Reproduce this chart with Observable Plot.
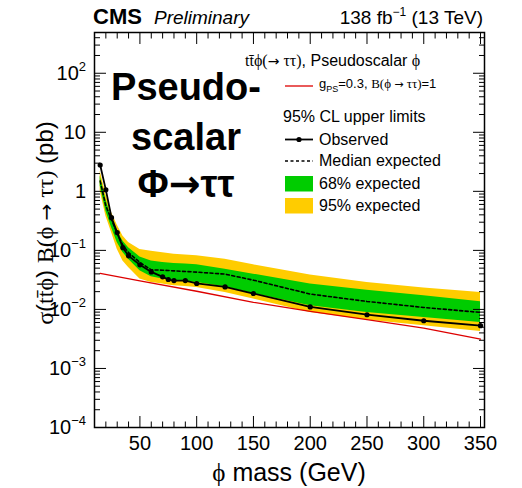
<!DOCTYPE html>
<html><head><meta charset="utf-8">
<script src="https://cdn.jsdelivr.net/npm/d3@7"></script>
<script src="https://cdn.jsdelivr.net/npm/@observablehq/plot@0.6"></script>
<style>body{margin:0;background:#fff}#chart{width:522px;height:488px}</style>
</head><body><div id="chart"></div>
<script>
// ---- data ----
const mass      = [15, 20, 25, 30, 35, 40, 50, 60, 70, 75, 80, 90, 100, 125, 150, 200, 250, 300, 350];
const observed  = [2.79, 1.06, 0.358, 0.200, 0.111, 0.0807, 0.0569, 0.0432, 0.0356, 0.0321, 0.0308, 0.0308, 0.0275, 0.0240, 0.0186, 0.0110, 0.00813, 0.00643, 0.00530];
const expected  = [1.49, 0.565, 0.330, 0.195, 0.122, 0.0918, 0.0622, 0.0468, 0.0462, 0.0456, 0.0450, 0.0439, 0.0428, 0.0396, 0.0313, 0.0182, 0.01365, 0.0108, 0.00889];
const band68Hi  = [1.82, 0.733, 0.358, 0.213, 0.1445, 0.111, 0.0776, 0.0664, 0.0622, 0.0610, 0.0598, 0.0585, 0.0569, 0.0481, 0.0396, 0.0269, 0.0212, 0.0170, 0.01345];
const band68Lo  = [1.23, 0.464, 0.243, 0.1355, 0.0918, 0.071, 0.0450, 0.0356, 0.0326, 0.0320, 0.0313, 0.0297, 0.0286, 0.0242, 0.0186, 0.01153, 0.00889, 0.00731, 0.00603];
const band95Hi  = [2.20, 0.891, 0.436, 0.270, 0.176, 0.1355, 0.103, 0.0962, 0.0908, 0.0885, 0.0863, 0.0839, 0.0807, 0.0710, 0.0569, 0.0381, 0.0286, 0.0230, 0.0194];
const band95Lo  = [1.01, 0.383, 0.200, 0.1047, 0.0664, 0.0512, 0.0326, 0.0286, 0.0269, 0.0260, 0.0251, 0.0244, 0.0235, 0.0194, 0.0150, 0.00889, 0.00660, 0.00530, 0.00424];
const theoryMass = [15, 50, 100, 150, 200, 250, 300, 350];
const theoryXsec = [0.0407, 0.0305, 0.0203, 0.0132, 0.0093, 0.00669, 0.00484, 0.00313];
const xTicks = [50, 100, 150, 200, 250, 300, 350];
const yTicks = [1e-4, 1e-3, 1e-2, 1e-1, 1, 10, 100];
const yTickBase = ["10", "10", "10", "10", "1", "10", "10"];
const yTickExp  = ["\u22124", "\u22123", "\u22122", "\u22121", "", "", "2"];

const SANS = "'Liberation Sans', Arial, Helvetica, sans-serif";
const SERIF = "'Liberation Serif', 'DejaVu Serif', 'Times New Roman', serif";
const ARROW = "'DejaVu Sans', sans-serif";
const PHI = "\u03d5";

const rows = mass.map((m, i) => ({m, obs: observed[i], med: expected[i],
  lo68: band68Lo[i], hi68: band68Hi[i], lo95: band95Lo[i], hi95: band95Hi[i]}));
const theory = theoryMass.map((m, i) => ({m, xs: theoryXsec[i]}));
const xMinor = d3.range(10, 351, 10).filter(v => v % 50 !== 0);
const yMinor = d3.range(-4, 3).flatMap(e => d3.range(2, 10).map(k => k * 10 ** e)).filter(v => v < 490);

const noText = () => "";
const plot = Plot.plot({
  width: 522, height: 488,
  marginLeft: 94, marginRight: 38, marginTop: 32, marginBottom: 61,
  style: {fontFamily: SANS, background: "white", overflow: "visible"},
  x: {domain: [10, 353.5]},
  y: {type: "log", domain: [1e-4, 490]},
  marks: [
    Plot.areaY(rows, {x: "m", y1: "lo95", y2: "hi95", fill: "#ffcc00"}),
    Plot.areaY(rows, {x: "m", y1: "lo68", y2: "hi68", fill: "#00cc00"}),
    Plot.lineY(rows, {x: "m", y: "med", stroke: "black", strokeWidth: 1.6, strokeDasharray: "3,2.5"}),
    Plot.lineY(theory, {x: "m", y: "xs", stroke: "#dd0000", strokeWidth: 1.3}),
    Plot.lineY(rows, {x: "m", y: "obs", stroke: "black", strokeWidth: 1.8}),
    Plot.dot(rows, {x: "m", y: "obs", r: 2.6, fill: "black"}),
    // inward ticks on all four sides
    Plot.axisX(xTicks, {anchor: "bottom", tickSize: -11, tickFormat: noText, label: null, strokeWidth: 1}),
    Plot.axisX(xMinor, {anchor: "bottom", tickSize: -5.5, tickFormat: noText, label: null, strokeWidth: 1}),
    Plot.axisX(xTicks, {anchor: "top", tickSize: -11, tickFormat: noText, label: null, strokeWidth: 1}),
    Plot.axisX(xMinor, {anchor: "top", tickSize: -5.5, tickFormat: noText, label: null, strokeWidth: 1}),
    Plot.axisX(xTicks, {anchor: "bottom", tickSize: 0, tickPadding: 8, fontSize: 20, label: null}),
    Plot.axisY(yTicks, {anchor: "left", tickSize: -12, tickFormat: noText, label: null, strokeWidth: 1}),
    Plot.axisY(yMinor, {anchor: "left", tickSize: -6, tickFormat: noText, label: null, strokeWidth: 1}),
    Plot.axisY(yTicks, {anchor: "right", tickSize: -12, tickFormat: noText, label: null, strokeWidth: 1}),
    Plot.axisY(yMinor, {anchor: "right", tickSize: -6, tickFormat: noText, label: null, strokeWidth: 1}),
    Plot.frame({stroke: "black", strokeWidth: 1.5})
  ]
});
document.getElementById("chart").appendChild(plot);

const svg = d3.select(plot);
const Y = plot.scale("y");

function addText(x, y, parts, opts = {}) {
  const t = svg.append("text").attr("x", x).attr("y", y)
    .attr("text-anchor", opts.anchor || "start").attr("fill", "black")
    .attr("font-family", SANS).attr("font-size", opts.size || 16);
  if (opts.transform) t.attr("transform", opts.transform);
  for (const p of parts) {
    const s = t.append("tspan").text(p.t);
    if (p.f) s.attr("font-family", p.f);
    if (p.s) s.attr("font-size", p.s);
    if (p.w) s.attr("font-weight", p.w);
    if (p.i) s.attr("font-style", "italic");
    if (p.dy) s.attr("dy", p.dy);
  }
  return t;
}

// y tick labels
yTicks.forEach((v, i) => {
  const parts = [{t: yTickBase[i]}];
  if (yTickExp[i]) parts.push({t: yTickExp[i], s: 13, dy: -9});
  addText(86, Y.apply(v) + 7, parts, {anchor: "end", size: 20});
});

// header
addText(93, 24, [{t: "CMS", w: "bold"}], {size: 22});
addText(154, 24, [{t: "Preliminary", i: true}], {size: 19});
addText(483, 24, [{t: "138 fb"}, {t: "\u22121", s: 12, dy: -8}, {t: " (13 TeV)", dy: 8}], {anchor: "end", size: 19});

// axis titles
addText(289, 481, [{t: PHI, f: SERIF}, {t: " mass (GeV)"}], {anchor: "middle", size: 25});
addText(0, 0, [
  {t: "\u03c3", f: SERIF}, {t: "("}, {t: "tt\u0304" + PHI, f: SERIF}, {t: ") "},
  {t: "B(" + PHI + " ", f: SERIF}, {t: "\u2192", f: ARROW, s: 20}, {t: " \u03c4\u03c4)", f: SERIF}, {t: " (pb)"}
], {anchor: "middle", size: 24, transform: "translate(53,223) rotate(-90)"});

// big annotation
addText(186, 100, [{t: "Pseudo-", w: "bold"}], {anchor: "middle", size: 38});
addText(186, 150, [{t: "scalar", w: "bold"}], {anchor: "middle", size: 38});
addText(186, 197, [{t: "\u03a6", w: "bold"}, {t: "\u2192", w: "bold", f: ARROW}, {t: "\u03c4\u03c4", w: "bold"}], {anchor: "middle", size: 38});

// legend
addText(245, 66, [{t: "tt\u0304" + PHI + "(", f: SERIF}, {t: "\u2192", f: ARROW, s: 14}, {t: " \u03c4\u03c4)", f: SERIF}, {t: ", Pseudoscalar "}, {t: PHI, f: SERIF}], {size: 16});
svg.append("line").attr("x1", 285).attr("x2", 313).attr("y1", 86).attr("y2", 86).attr("stroke", "#dd0000").attr("stroke-width", 1.3);
addText(319, 88, [{t: "g"}, {t: "PS", s: 9, dy: 4}, {t: "=0.3, ", dy: -4}, {t: "B(" + PHI + " ", f: SERIF}, {t: "\u2192", f: ARROW, s: 11}, {t: " \u03c4\u03c4)", f: SERIF}, {t: "=1"}], {size: 13});
addText(283, 122, [{t: "95% CL upper limits"}], {size: 16});
svg.append("line").attr("x1", 285).attr("x2", 313).attr("y1", 139.5).attr("y2", 139.5).attr("stroke", "black").attr("stroke-width", 1.8);
svg.append("circle").attr("cx", 299).attr("cy", 139.5).attr("r", 2.6).attr("fill", "black");
addText(319, 145, [{t: "Observed"}], {size: 16});
svg.append("line").attr("x1", 285).attr("x2", 313).attr("y1", 161).attr("y2", 161).attr("stroke", "black").attr("stroke-width", 1.6).attr("stroke-dasharray", "3,2.5");
addText(319, 166, [{t: "Median expected"}], {size: 16});
svg.append("rect").attr("x", 285).attr("y", 176).attr("width", 28).attr("height", 15.5).attr("fill", "#00cc00");
addText(319, 189, [{t: "68% expected"}], {size: 16});
svg.append("rect").attr("x", 285).attr("y", 198).attr("width", 28).attr("height", 15.5).attr("fill", "#ffcc00");
addText(319, 211, [{t: "95% expected"}], {size: 16});
</script>
</body></html>
